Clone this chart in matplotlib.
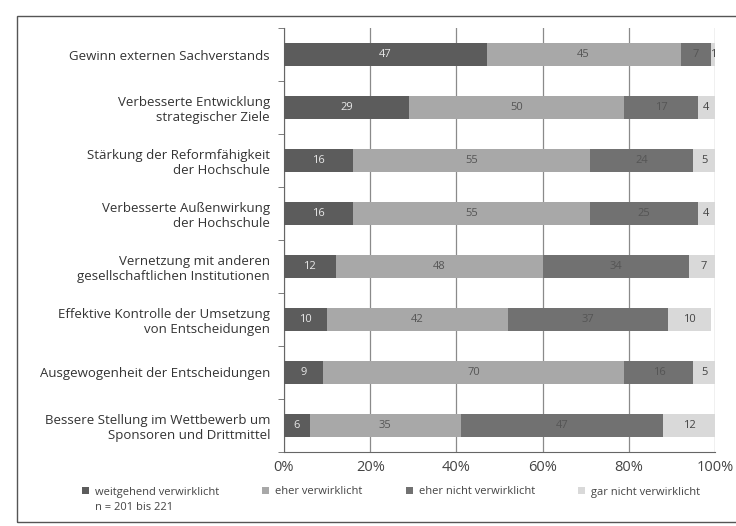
import numpy as np
import matplotlib.pyplot as plt
from matplotlib.patches import Rectangle

categories = [
    "Gewinn externen Sachverstands",
    "Verbesserte Entwicklung\nstrategischer Ziele",
    "Stärkung der Reformfähigkeit\nder Hochschule",
    "Verbesserte Außenwirkung\nder Hochschule",
    "Vernetzung mit anderen\ngesellschaftlichen Institutionen",
    "Effektive Kontrolle der Umsetzung\nvon Entscheidungen",
    "Ausgewogenheit der Entscheidungen",
    "Bessere Stellung im Wettbewerb um\nSponsoren und Drittmittel",
]
series_names = ["weitgehend verwirklicht", "eher verwirklicht",
                "eher nicht verwirklicht", "gar nicht verwirklicht"]
weitgehend = [47, 29, 16, 16, 12, 10, 9, 6]
eher = [45, 50, 55, 55, 48, 42, 70, 35]
eher_nicht = [7, 17, 24, 25, 34, 37, 16, 47]
gar_nicht = [1, 4, 5, 4, 7, 10, 5, 12]
xticks = [0, 20, 40, 60, 80, 100]
note = "n = 201 bis 221"

colors = ["#5c5c5c", "#a8a8a8", "#717171", "#d9d9d9"]
text_colors = ["#e8e8e8", "#555555", "#555555", "#444444"]

plt.rcParams['font.family'] = ['Open Sans', 'DejaVu Sans']

fig = plt.figure(figsize=(7.36, 5.26), dpi=100)
ax = fig.add_axes([284 / 736, 1 - 452 / 526, 431 / 736, 424 / 526])

y = np.arange(len(categories))
left = np.zeros(len(categories))
for vals, c, tc, name in zip([weitgehend, eher, eher_nicht, gar_nicht],
                             colors, text_colors, series_names):
    vals = np.array(vals, dtype=float)
    ax.barh(y, vals, left=left, height=0.43, color=c, label=name, zorder=3)
    for yi, l, v in zip(y, left, vals):
        ax.text(l + v / 2, yi, str(int(v)), ha="center", va="center",
                fontsize=8, color=tc, zorder=4)
    left += vals

ax.set_xlim(0, 100)
ax.set_ylim(len(categories) - 0.5, -0.5)
ax.set_xticks(xticks)
ax.set_xticklabels([f"{t}%" for t in xticks], fontsize=10.5, color="#444444")
ax.set_yticks(y)
ax.set_yticklabels(categories, fontsize=9.5, color="#333333")
ax.set_yticks(np.arange(-0.5, len(categories)), minor=True)
ax.tick_params(axis="y", which="major", length=0, pad=10)
ax.tick_params(axis="y", which="minor", length=4, color="#666666")
ax.tick_params(axis="x", length=0, pad=6)
ax.grid(axis="x", color="#8a8a8a", linewidth=0.9, zorder=0)
for s in ["top", "right"]:
    ax.spines[s].set_visible(False)
for s in ["left", "bottom"]:
    ax.spines[s].set_color("#666666")

handles, labels = ax.get_legend_handles_labels()
fig.legend(handles, labels, loc="center left", bbox_to_anchor=(82 / 736, 1 - 492 / 526),
           ncol=4, frameon=False, fontsize=8, handlelength=0.6, handleheight=0.6,
           handletextpad=0.55, columnspacing=3.9, labelcolor="#444444",
           borderpad=0, borderaxespad=0)
fig.text(95 / 736, 1 - 508 / 526, note, fontsize=8, color="#444444", va="center")

fig.add_artist(Rectangle((17 / 736, 1 - 522 / 526), 0.99, 506 / 526,
                         transform=fig.transFigure, fill=False,
                         edgecolor="#555555", linewidth=1.0))

fig.savefig("out.png", dpi=100)
